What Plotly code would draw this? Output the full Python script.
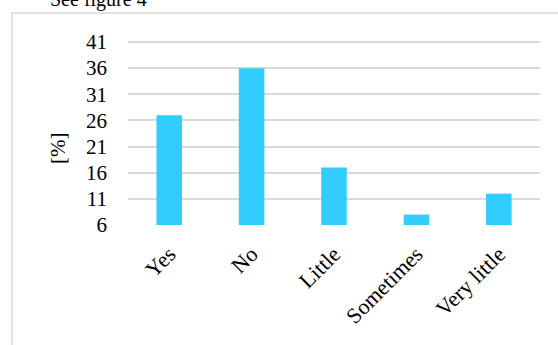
import plotly.graph_objects as go

categories = ["Yes", "No", "Little", "Sometimes", "Very little"]
values = [27, 36, 17, 8, 12]
tick_vals = [6, 11, 16, 21, 26, 31, 36, 41]

W, H = 558, 345
L, R, T, B = 128, 18, 39, 120
pw, ph = W - L - R, H - T - B
y_top = 41.57

def px_x(p):
    return (p - L) / pw

def px_y(p):
    return (H - B - p) / ph

font = "Liberation Serif, Times New Roman, serif"

fig = go.Figure(go.Bar(
    x=categories,
    y=[v - 6 for v in values],
    base=6,
    marker=dict(color="#33CCFF", line=dict(width=0)),
    width=0.31,
))

fig.update_layout(
    width=W, height=H,
    margin=dict(l=L, r=R, t=T, b=B),
    paper_bgcolor="white", plot_bgcolor="white",
    showlegend=False,
    font=dict(family=font, color="black"),
    xaxis=dict(
        tickangle=-45, tickfont=dict(size=22, family=font),
        showgrid=False, showline=False, ticks="",
        ticklabelstandoff=11,
    ),
    yaxis=dict(
        range=[6, y_top], tickvals=tick_vals,
        tickfont=dict(size=21, family=font),
        showgrid=True, gridcolor="#d9d9d9", gridwidth=1.6,
        zeroline=False, showline=False, ticks="",
        ticklabelstandoff=20,
    ),
    shapes=[
        dict(type="line", xref="paper", yref="paper",
             x0=px_x(11.5), x1=px_x(560), y0=px_y(13), y1=px_y(13),
             line=dict(color="#d9d9d9", width=1.5)),
        dict(type="line", xref="paper", yref="paper",
             x0=px_x(12), x1=px_x(12), y0=px_y(13), y1=px_y(350),
             line=dict(color="#d9d9d9", width=1.5)),
    ],
    annotations=[
        dict(text="See figure 4", xref="paper", yref="paper",
             x=px_x(98), y=px_y(0), xanchor="center", yanchor="middle",
             showarrow=False, font=dict(size=20, family=font)),
        dict(text="[%]", xref="paper", yref="paper",
             x=px_x(58), y=px_y(149), xanchor="center", yanchor="middle",
             textangle=-90, showarrow=False, font=dict(size=21, family=font)),
    ],
)

fig.write_html("out.html")
